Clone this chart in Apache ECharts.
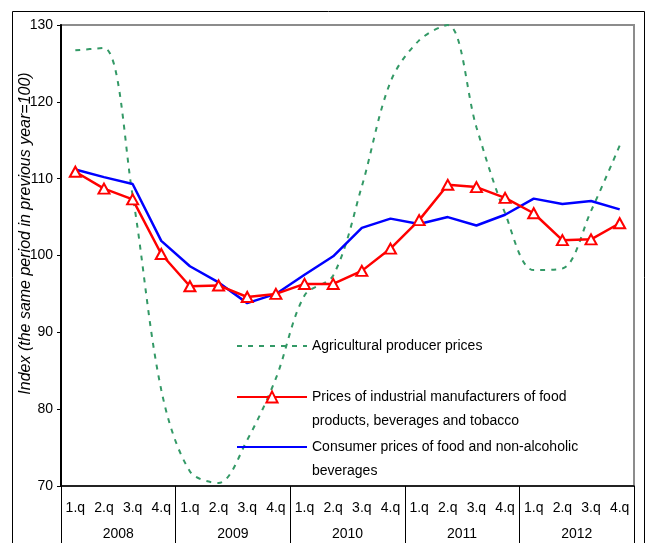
<!DOCTYPE html>
<html>
<head>
<meta charset="utf-8">
<script src="https://cdn.jsdelivr.net/npm/echarts@6/dist/echarts.min.js"></script>
<style>
html,body{margin:0;padding:0;background:#fff;}
#chart{width:651px;height:543px;}
</style>
</head>
<body>
<div id="chart"></div>
<script>
var years = ['2008', '2009', '2010', '2011', '2012'];
var quarterNames = ['1.q', '2.q', '3.q', '4.q'];
var quarters = [];
years.forEach(function () { quarterNames.forEach(function (q) { quarters.push(q); }); });

var agricultural = [126.7, 127.0, 107.8, 82.5, 71.9, 70.4, 76.0, 84.0, 94.8, 97.4,
                    109.0, 122.6, 128.0, 130.0, 116.7, 105.5, 98.1, 98.3, 105.8, 114.3];
var industrial   = [110.9, 108.7, 107.3, 100.2, 96.0, 96.1, 94.6, 95.0, 96.3, 96.3,
                    98.0, 100.9, 104.6, 109.2, 108.9, 107.5, 105.5, 102.0, 102.1, 104.2];
var consumer     = [111.2, 110.2, 109.3, 101.9, 98.6, 96.5, 93.8, 95.0, 97.5, 99.9,
                    103.6, 104.8, 104.1, 105.0, 103.9, 105.3, 107.4, 106.7, 107.1, 106.0];

var nameAgri = 'Agricultural producer prices';
var nameInd = 'Prices of industrial manufacturers of food products, beverages and tobacco';
var nameCons = 'Consumer prices of food and non-alcoholic beverages';
var legendLines = {};
legendLines[nameAgri] = 'Agricultural producer prices';
legendLines[nameInd] = '\nPrices of industrial manufacturers of food\nproducts, beverages and tobacco';
legendLines[nameCons] = '\nConsumer prices of food and non-alcoholic\nbeverages';

var FONT = 'Arial, "Liberation Sans", sans-serif';

function legendFor(name, top, hideSymbol) {
  var l = {
    data: [name],
    left: 236,
    top: top,
    padding: 0,
    itemWidth: 70,
    itemHeight: 14,
    selectedMode: false,
    formatter: function (n) { return legendLines[n]; },
    textStyle: {fontFamily: FONT, fontSize: 14, color: '#000', lineHeight: 24}
  };
  if (hideSymbol) { l.itemStyle = {opacity: 0}; }
  return l;
}

var chart = echarts.init(document.getElementById('chart'), null, {renderer: 'canvas'});
chart.setOption({
  animation: false,
  backgroundColor: '#fff',
  textStyle: {fontFamily: FONT},
  graphic: [{
    type: 'rect', z: -10, silent: true,
    shape: {x: 12.5, y: 11.5, width: 632, height: 600},
    style: {fill: 'none', stroke: '#000', lineWidth: 1}
  }],
  grid: {
    left: 61, right: 17, top: 25, bottom: 57,
    show: true, borderColor: '#8c8c8c', borderWidth: 2, backgroundColor: 'transparent'
  },
  legend: [
    legendFor(nameAgri, 334, true),
    legendFor(nameInd, 361, false),
    legendFor(nameCons, 411, true)
  ],
  xAxis: [{
    type: 'category', data: quarters, position: 'bottom', boundaryGap: true,
    axisLine: {show: false}, axisTick: {show: false},
    axisLabel: {interval: 0, margin: 15, fontSize: 14, color: '#000', fontFamily: FONT},
    splitLine: {show: false}
  }, {
    type: 'category', data: years, position: 'bottom', boundaryGap: true,
    axisLine: {show: true, lineStyle: {color: '#000', width: 1.5}},
    axisTick: {show: true, interval: 0, length: 60, lineStyle: {color: '#000', width: 1}},
    axisLabel: {interval: 0, margin: 41, fontSize: 14, color: '#000', fontFamily: FONT},
    splitLine: {show: false}
  }],
  yAxis: {
    type: 'value', min: 70, max: 130, interval: 10,
    name: 'Index (the same period in previous year=100)',
    nameLocation: 'middle', nameGap: 27, nameMoveOverlap: false,
    nameTextStyle: {fontFamily: FONT, fontSize: 16, fontStyle: 'italic', color: '#000', padding: [0, 0, 0, 44]},
    axisLine: {show: true, lineStyle: {color: '#000', width: 2}},
    axisTick: {show: true, inside: false, length: 4, lineStyle: {color: '#000', width: 1}},
    axisLabel: {margin: 8, fontSize: 14, color: '#000', fontFamily: FONT},
    splitLine: {show: false}
  },
  series: [{
    name: nameAgri, type: 'line', data: agricultural, smooth: 0.33,
    symbol: 'none', showSymbol: false,
    lineStyle: {color: '#339966', width: 2, type: [5, 6]},
    itemStyle: {color: '#339966'}
  }, {
    name: nameCons, type: 'line', data: consumer,
    symbol: 'none', showSymbol: false,
    lineStyle: {color: '#0000ff', width: 2.5},
    itemStyle: {color: '#0000ff'}
  }, {
    name: nameInd, type: 'line', data: industrial,
    symbol: 'triangle', symbolSize: [11, 10], showSymbol: true,
    lineStyle: {color: '#ff0000', width: 2.5},
    itemStyle: {color: '#ffffff', borderColor: '#ff0000', borderWidth: 2}
  }]
});
</script>
</body>
</html>
